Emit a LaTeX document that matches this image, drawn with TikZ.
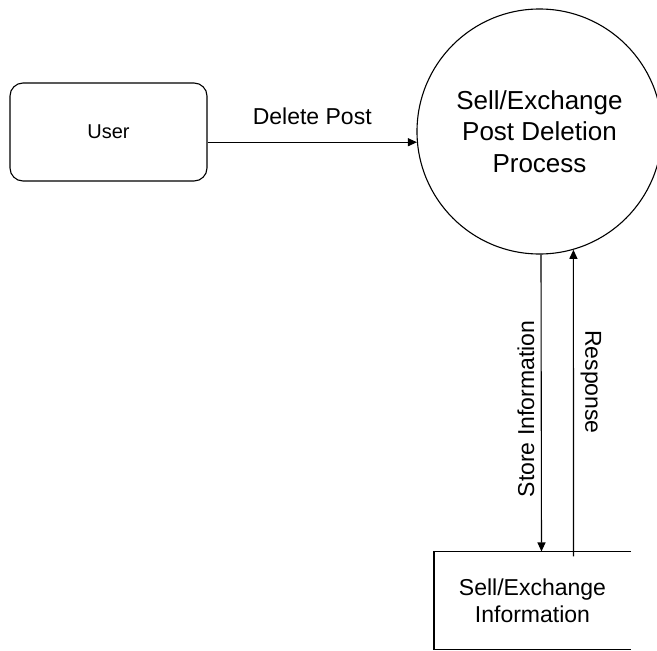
\documentclass[tikz,border=0pt]{standalone}
\usepackage{fontspec}
\setmainfont{Liberation Sans}
\usetikzlibrary{arrows.meta}

\begin{document}
\begin{tikzpicture}[x=1pt,y=-1pt, line width=1.1pt,
    flow/.style={-{Triangle[length=9pt,width=8pt]}},
    lbl/.style={font=\fontsize{23}{27}\selectfont, inner sep=0pt}]
    \useasboundingbox (0,0) rectangle (657,651);
    \node[draw, rounded corners=13pt, minimum width=197pt, minimum height=98pt,
        font=\fontsize{20}{24}\selectfont] (user) at (108.5,132) {User};
    \node[draw, circle, minimum size=245pt, inner sep=0pt, align=center,
        font=\fontsize{26}{31.5}\selectfont] (proc) at (539.5,131.5)
        {Sell/Exchange\\Post Deletion\\Process};
    \node[minimum width=196pt, minimum height=97pt, align=center,
        font=\fontsize{23}{27}\selectfont] (store) at (532.5,600.5)
        {Sell/Exchange\\Information};
    \draw (store.north east) -- (store.north west) -- (store.south west)
        -- (store.south east);
    \draw[flow] (user.east |- proc.185) -- (proc.185)
        node [lbl, midway, anchor=center, yshift=26pt] {Delete Post};
    \draw[flow] ([xshift=1.5pt]proc.south) -- ([xshift=9pt]store.north);
    \draw[flow] ([xshift=41pt,yshift=-5pt]store.north) -- (proc.286);
    \node[lbl, rotate=90] (storelbl) at (526,409) {Store Information};
    \node[lbl, rotate=-90] (resplbl) at (591,382) {Response};
\end{tikzpicture}
\end{document}
